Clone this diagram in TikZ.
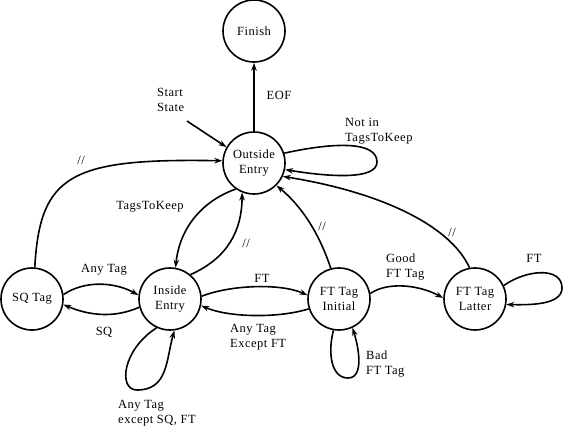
\documentclass[tikz,border=0pt]{standalone}
\usepackage{fontspec}
\setmainfont{Liberation Serif}[LetterSpace=4]
\usetikzlibrary{arrows.meta}
\begin{document}
\begin{tikzpicture}[x=1pt,y=1pt,
  every node/.style={font=\fontsize{12.5}{14.5}\selectfont},
  state/.style={draw,circle,line width=1.6pt,minimum size=62pt,inner sep=0pt,align=center},
  edge/.style={line width=1.6pt,-{Stealth[length=8pt,width=5.5pt]}},
  lbl/.style={inner sep=0pt,align=left}]
\useasboundingbox (0,0) rectangle (564,-428);
\node[state] (fin) at (254,-31) {Finish};
\node[state] (out) at (254,-163) {Outside\\Entry};
\node[state] (sq) at (32,-299) {SQ Tag};
\node[state] (in) at (170,-299) {Inside\\Entry};
\node[state] (fti) at (339,-299) {FT Tag\\Initial};
\node[state] (ftl) at (475,-299) {FT Tag\\Latter};
\coordinate (start) at (187,-121);

% labels
\node[lbl] (lEOF) at (279,-95) {EOF};
\node[lbl,anchor=west] (lstart) at (157,-100) {Start\\State};
\node[lbl,anchor=west] (lnot) at (345,-131) {Not in\\TagsToKeep};
\node[lbl] (ls1) at (81,-160) {//};
\node[lbl] (lttk) at (150,-207) {TagsToKeep};
\node[lbl] (ls2) at (246,-243) {//};
\node[lbl] (ls3) at (322,-226) {//};
\node[lbl] (ls4) at (452,-232) {//};
\node[lbl] (lany) at (104,-270) {Any Tag};
\node[lbl] (lsq) at (104,-332) {SQ};
\node[lbl] (lft) at (262,-278) {FT};
\node[lbl,anchor=west] (lexft) at (230,-337) {Any Tag\\Except FT};
\node[lbl,anchor=west] (lexsq) at (118,-413) {Any Tag\\except SQ, FT};
\node[lbl,anchor=west] (lbad) at (366,-364) {Bad\\FT Tag};
\node[lbl,anchor=west] (lgood) at (386,-267) {Good\\FT Tag};
\node[lbl] (lft2) at (534,-258) {FT};

% connectors
\draw[edge] (out.north) -- (fin.south);
\draw[edge] (start) -- (out.150);
\draw[edge] (out.18) .. controls (330,-143) and (377,-140) .. (377,-162)
  .. controls (377,-180) and (330,-177) .. (out.-12);
\draw[edge] (sq.85) .. controls (40,-175) and (70,-158) .. (out.176);
\draw[edge] (out.235) .. controls (205,-200) and (180,-225) .. (in.80);
\draw[edge] (in.50) .. controls (228,-258) and (242,-230) .. (out.-112);
\draw[edge] (fti.105) .. controls (318,-230) and (300,-205) .. (out.-45);
\draw[edge] (ftl.100) .. controls (450,-225) and (380,-192) .. (out.-25);
\draw[edge] (sq.8) .. controls (85,-280) and (115,-282) .. (in.173);
\draw[edge] (in.195) .. controls (115,-318) and (90,-316) .. (sq.-10);
\draw[edge] (in.5) .. controls (230,-285) and (280,-283) .. (fti.173);
\draw[edge] (fti.198) .. controls (280,-318) and (230,-318) .. (in.-12);
\draw[edge] (in.-115) .. controls (122,-350) and (118,-390) .. (137,-390)
  .. controls (168,-390) and (166,-360) .. (in.-82);
\draw[edge] (fti.-100) .. controls (328,-350) and (330,-378) .. (348,-378)
  .. controls (365,-378) and (358,-345) .. (fti.-65);
\draw[edge] (fti.10) .. controls (385,-283) and (415,-283) .. (ftl.178);
\draw[edge] (ftl.25) .. controls (525,-270) and (562,-266) .. (562,-288)
  .. controls (562,-305) and (530,-305) .. (ftl.-10);
\end{tikzpicture}
\end{document}
